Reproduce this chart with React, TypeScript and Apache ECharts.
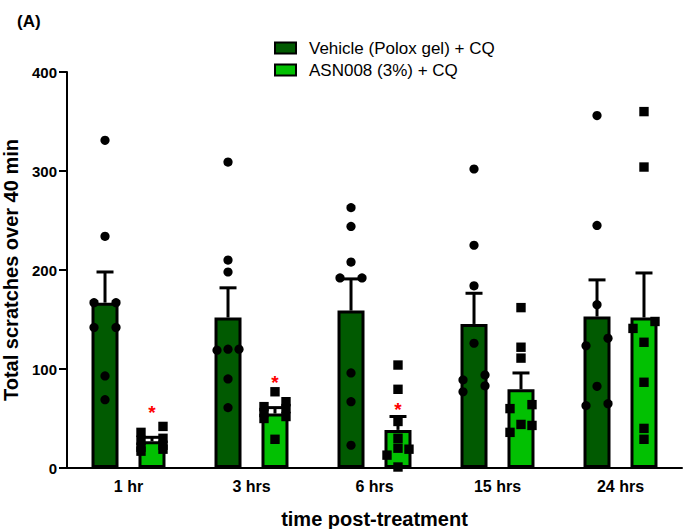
import React, { useEffect, useRef } from "react";
import * as echarts from "echarts";

const categories = ["1 hr", "3 hrs", "6 hrs", "15 hrs", "24 hrs"];
const seriesNames = ["Vehicle (Polox gel) + CQ", "ASN008 (3%) + CQ"];
const vehicleMean = [167, 152, 159, 145.5, 153];
const vehicleSem = [31, 30, 32, 31, 37];
const asnMean = [27, 55, 38.5, 79.5, 152];
const asnSem = [4, 6, 13.5, 16.5, 45];
const vehiclePoints = [
  [331, 234, 167, 167, 142, 142, 93, 69],
  [309, 210, 198, 120, 120, 119, 90, 61],
  [263, 244, 208, 192, 192, 96, 67, 23],
  [302, 225, 184, 126, 94, 89, 83, 77],
  [356, 245, 165, 131, 123.5, 82.5, 65, 63],
];
const asnPoints = [
  [42, 36, 30, 28, 23, 21, 19, 17],
  [77, 67, 62, 60, 56, 52, 50, 29],
  [104, 79.5, 47, 30, 20, 19, 13, 1],
  [162, 122, 111, 64, 60, 44, 43, 36],
  [360, 304, 148, 141, 127, 86.6, 40, 29],
];
const significance = ["*", "*", "*", "", ""];
const significanceLevel = [60, 90, 63, null, null];
const yMin = 0;
const yMax = 400;
const yInterval = 100;

const COLORS = ["#015a01", "#02c002"];
const FONT = "'Liberation Sans', Arial, sans-serif";
const BAR_W = 27;
const BAR_GAP = 0.74;
const GROUP_OFFSET = (BAR_W + BAR_W * BAR_GAP) / 2;
const SLOT_PX = 11;

// simple GraphPad-like scatter spreading: cluster near-equal values, spread them sideways
function swarmSlots(values: number[], gap: number): number[] {
  const idx = values.map((_, i) => i).sort((a, b) => values[b] - values[a]);
  const slots = new Array(values.length).fill(0);
  let cluster: number[] = [];
  const flush = () => {
    const n = cluster.length;
    cluster.forEach((id, k) => {
      if (n % 2 === 1) slots[id] = k === 0 ? 0 : k % 2 === 1 ? 1 : -1;
      else slots[id] = k % 2 === 0 ? 1 : -1;
    });
    cluster = [];
  };
  idx.forEach((id) => {
    if (cluster.length && values[cluster[cluster.length - 1]] - values[id] >= gap) flush();
    cluster.push(id);
  });
  flush();
  return slots;
}

function pointData(groups: number[][]) {
  const out: number[][] = [];
  groups.forEach((vals, ci) => {
    const slots = swarmSlots(vals, 9);
    vals.forEach((v, k) => out.push([ci, v, slots[k]]));
  });
  return out;
}

function pointSeries(groups: number[][], groupIdx: number, shape: "circle" | "square") {
  const sign = groupIdx === 0 ? -1 : 1;
  return {
    type: "custom",
    name: seriesNames[groupIdx] + " points",
    data: pointData(groups),
    encode: { x: 0, y: 1 },
    z: 5,
    silent: true,
    renderItem: (params: any, api: any) => {
      const c = api.coord([api.value(0), api.value(1)]);
      const x = c[0] + sign * GROUP_OFFSET + api.value(2) * SLOT_PX;
      const y = c[1];
      if (shape === "circle") {
        return { type: "circle", shape: { cx: x, cy: y, r: 4.6 }, style: { fill: "#000" } };
      }
      return { type: "rect", shape: { x: x - 4.7, y: y - 4.7, width: 9.4, height: 9.4 }, style: { fill: "#000" } };
    },
  };
}

function errorSeries(means: number[], sems: number[], groupIdx: number) {
  const sign = groupIdx === 0 ? -1 : 1;
  return {
    type: "custom",
    name: seriesNames[groupIdx] + " sem",
    data: means.map((m, i) => [i, m, m + sems[i]]),
    encode: { x: 0, y: [1, 2] },
    z: 4,
    silent: true,
    renderItem: (params: any, api: any) => {
      const lo = api.coord([api.value(0), api.value(1)]);
      const hi = api.coord([api.value(0), api.value(2)]);
      const x = lo[0] + sign * GROUP_OFFSET;
      const st = { stroke: "#000", lineWidth: 3 };
      return {
        type: "group",
        children: [
          { type: "line", shape: { x1: x, y1: lo[1], x2: x, y2: hi[1] }, style: st },
          { type: "line", shape: { x1: x - 8.5, y1: hi[1], x2: x + 8.5, y2: hi[1] }, style: st },
        ],
      };
    },
  };
}

export default function App() {
  const ref = useRef<HTMLDivElement>(null);
  useEffect(() => {
    if (!ref.current) return;
    const chart = echarts.init(ref.current, null, { renderer: "svg" });
    const sigData = significanceLevel
      .map((lv, i) => (lv == null ? null : [i, lv, significance[i]]))
      .filter((d) => d != null);
    chart.setOption({
      animation: false,
      backgroundColor: "#fff",
      textStyle: { fontFamily: FONT },
      grid: { left: 67, right: 1, top: 72, bottom: 61, containLabel: false, outerBoundsMode: "none" },
      legend: {
        data: seriesNames,
        orient: "vertical",
        left: 274,
        top: 39,
        padding: 0,
        itemWidth: 21,
        itemHeight: 11,
        itemGap: 4,
        icon: "rect",
        itemStyle: { borderColor: "#000", borderWidth: 2 },
        textStyle: { fontSize: 17, color: "#000", fontFamily: FONT, lineHeight: 18, padding: [0, 0, 0, 8] },
      },
      graphic: [
        {
          type: "text",
          left: 17,
          top: 13,
          style: { text: "(A)", font: `bold 17px ${FONT}`, fill: "#000" },
        },
      ],
      xAxis: {
        type: "category",
        data: categories,
        name: "time post-treatment",
        nameLocation: "middle",
        nameGap: 41,
        nameTextStyle: { fontSize: 20, fontWeight: "bold", color: "#000", fontFamily: FONT },
        axisLine: { lineStyle: { color: "#000", width: 2 } },
        axisTick: { alignWithLabel: true, length: 6, lineStyle: { color: "#000", width: 2 } },
        axisLabel: { fontSize: 16, fontWeight: "bold", color: "#000", margin: 10, fontFamily: FONT },
      },
      yAxis: {
        type: "value",
        min: yMin,
        max: yMax,
        interval: yInterval,
        name: "Total scratches over 40 min",
        nameLocation: "middle",
        nameGap: 34,
        nameTextStyle: { fontSize: 20, fontWeight: "bold", color: "#000", fontFamily: FONT },
        splitLine: { show: false },
        axisLine: { show: true, lineStyle: { color: "#000", width: 2 } },
        axisTick: { show: true, length: 8, lineStyle: { color: "#000", width: 2 } },
        axisLabel: { fontSize: 15, fontWeight: "bold", color: "#000", margin: 10, fontFamily: FONT },
      },
      series: [
        {
          type: "bar",
          name: seriesNames[0],
          data: vehicleMean,
          barWidth: BAR_W,
          barGap: `${BAR_GAP * 100}%`,
          itemStyle: { color: COLORS[0], borderColor: "#000", borderWidth: 3 },
          z: 2,
          silent: true,
        },
        {
          type: "bar",
          name: seriesNames[1],
          data: asnMean,
          barWidth: BAR_W,
          barGap: `${BAR_GAP * 100}%`,
          itemStyle: { color: COLORS[1], borderColor: "#000", borderWidth: 3 },
          z: 2,
          silent: true,
        },
        errorSeries(vehicleMean, vehicleSem, 0),
        errorSeries(asnMean, asnSem, 1),
        pointSeries(vehiclePoints, 0, "circle"),
        pointSeries(asnPoints, 1, "square"),
        {
          type: "custom",
          name: "significance",
          data: sigData,
          encode: { x: 0, y: 1 },
          z: 6,
          silent: true,
          renderItem: (params: any, api: any) => {
            const c = api.coord([api.value(0), api.value(1)]);
            const item = sigData[params.dataIndex] as any[];
            return {
              type: "text",
              x: c[0] + GROUP_OFFSET,
              y: c[1] + 4,
              style: {
                text: item[2],
                fill: "#ff0000",
                font: `bold 19px ${FONT}`,
                align: "center",
                verticalAlign: "middle",
              },
            };
          },
        },
      ],
    });
    return () => chart.dispose();
  }, []);
  return <div ref={ref} style={{ position: "fixed", left: 0, top: 0, width: 683, height: 529 }} />;
}
